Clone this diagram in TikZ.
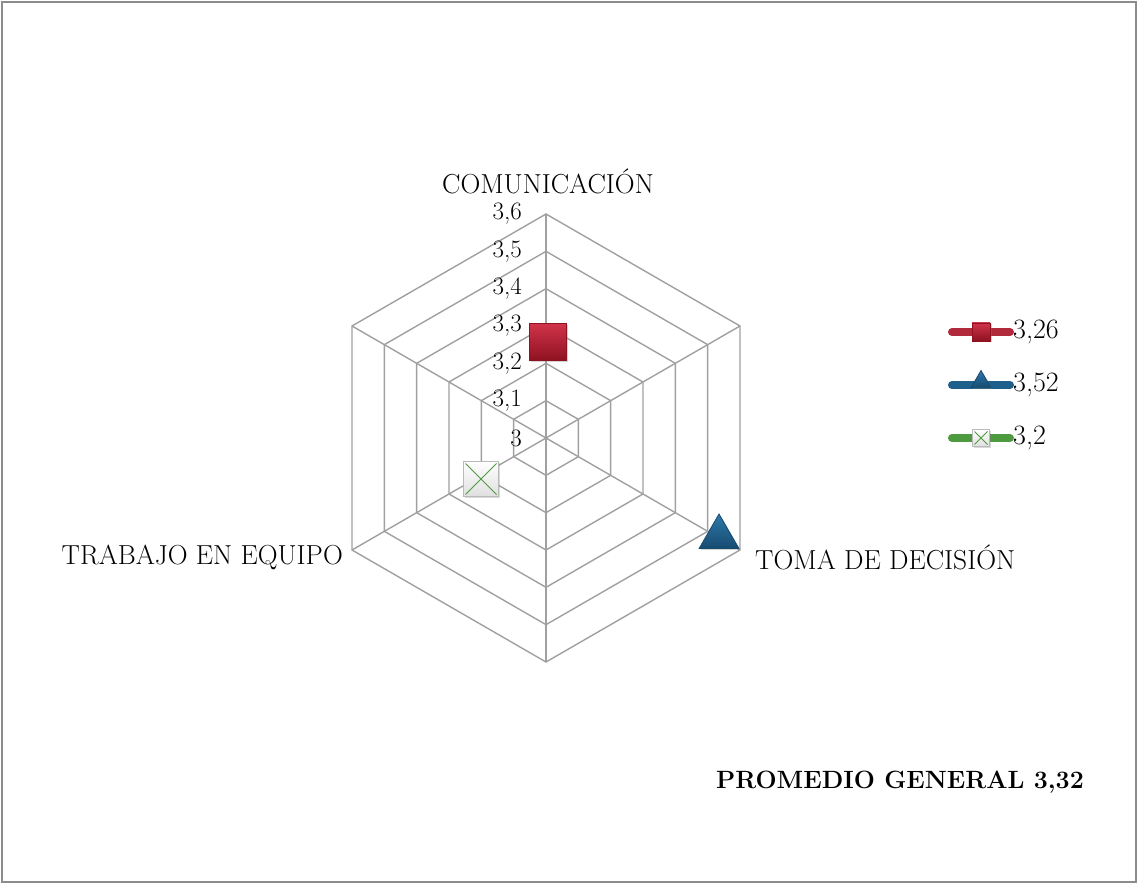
\documentclass[tikz,border=0pt]{standalone}
\usetikzlibrary{shapes.geometric,shadows}
\definecolor{gridgray}{HTML}{A0A0A0}
\definecolor{framegray}{HTML}{8C8C8C}
\definecolor{redlight}{HTML}{D0334A}
\definecolor{reddark}{HTML}{8E1221}
\definecolor{redline}{HTML}{B02A3C}
\definecolor{bluelight}{HTML}{2E78AA}
\definecolor{bluedark}{HTML}{174B70}
\definecolor{blueline}{HTML}{1F5F8C}
\definecolor{greenx}{HTML}{4E9A3F}
\definecolor{greenline}{HTML}{4E9A3F}
\begin{document}
\begin{tikzpicture}[x=1pt,y=1pt,
  frame/.style={draw=framegray, line width=2pt},
  grid/.style={draw=gridgray, line width=1.4pt, line join=miter},
  axislabel/.style={font=\fontsize{27.5}{32}\selectfont, inner sep=0pt},
  ticklabel/.style={font=\fontsize{25}{30}\selectfont, anchor=east, inner sep=0pt},
  legtext/.style={font=\fontsize{28}{32}\selectfont, anchor=west, inner sep=0pt},
  legline/.style={line width=8pt, line cap=round},
  redmark/.style={rectangle, minimum size=#1, inner sep=0pt, top color=redlight, bottom color=reddark, draw=reddark, line width=0.8pt,
    drop shadow={shadow xshift=1.5pt, shadow yshift=-1.5pt, opacity=.35}},
  bluemark/.style={regular polygon, regular polygon sides=3, minimum size=#1, inner sep=0pt, top color=bluelight, bottom color=bluedark, draw=bluedark, line width=0.8pt,
    drop shadow={shadow xshift=1.5pt, shadow yshift=-1.5pt, opacity=.35}},
  greenmark/.style={rectangle, minimum size=#1, inner sep=0pt, top color=white, bottom color=gray!25, draw=gray!55, line width=0.8pt,
    drop shadow={shadow xshift=1.5pt, shadow yshift=-1.5pt, opacity=.3},
    path picture={\draw[greenx, line width=1pt]
      ([shift={(2pt,2pt)}]path picture bounding box.south west) -- ([shift={(-2pt,-2pt)}]path picture bounding box.north east)
      ([shift={(2pt,-2pt)}]path picture bounding box.north west) -- ([shift={(-2pt,2pt)}]path picture bounding box.south east);}},
  total/.style={font=\bfseries\fontsize{25}{30}\selectfont, inner sep=0pt}
]
\useasboundingbox (0,0) rectangle (1137,884);
\draw[frame] (1.5,2) rectangle (1135.5,882);

% radar grid
\coordinate (C) at (546,446);
\begin{scope}[shift={(C)}]
  \foreach \i in {1,...,6} {
    \pgfmathsetmacro{\r}{\i*37.333}
    \draw[grid] (90:\r) -- (30:\r) -- (-30:\r) -- (-90:\r) -- (210:\r) -- (150:\r) -- cycle;
  }
  \foreach \a in {90,30,-30,-90,210,150} {
    \draw[grid] (0,0) -- (\a:224);
  }
  % scale labels
  \foreach \i/\t in {0/3,1/{3,1},2/{3,2},3/{3,3},4/{3,4},5/{3,5},6/{3,6}} {
    \node[ticklabel] (tick\i) at (-24,\i*37.333) {\t};
  }
\end{scope}

% axis labels
\node[axislabel, anchor=south] (lcom) at (548,690) {COMUNICACIÓN};
\node[axislabel, anchor=west] (ltoma) at (755,327) {TOMA DE DECISIÓN};
\node[axislabel, anchor=east] (ltrab) at (343,327) {TRABAJO EN EQUIPO};

% data markers
\node[redmark=37pt] (m1) at (548,542) {};
\node[bluemark=46pt] (m2) at (719,347) {};
\node[greenmark=35pt] (m3) at (481,405) {};

% legend
\coordinate (r1a) at (952,552); \coordinate (r1b) at (1010,552);
\coordinate (r2a) at (952,499); \coordinate (r2b) at (1010,499);
\coordinate (r3a) at (952,446); \coordinate (r3b) at (1010,446);
\draw[legline, redline] (r1a) -- (r1b);
\draw[legline, blueline] (r2a) -- (r2b);
\draw[legline, greenline] (r3a) -- (r3b);
\node[redmark=18pt] (k1) at (981,552) {};
\node[bluemark=23pt] (k2) at (981,502) {};
\node[greenmark=17pt] (k3) at (981,446) {};
\node[legtext] (t1) at (1013,552) {3,26};
\node[legtext] (t2) at (1013,499) {3,52};
\node[legtext] (t3) at (1013,446) {3,2};

% total
\node[total] (prom) at (900,102) {PROMEDIO GENERAL 3,32};
\end{tikzpicture}
\end{document}
